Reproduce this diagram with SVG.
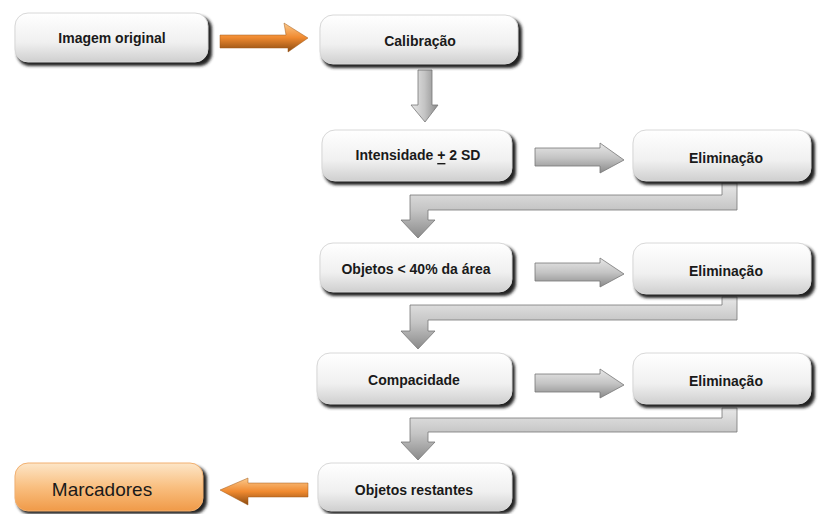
<svg xmlns="http://www.w3.org/2000/svg" width="818" height="514" viewBox="0 0 818 514">
<defs>
<linearGradient id="gBox" x1="0" y1="0" x2="0" y2="1">
<stop offset="0" stop-color="#ffffff"/>
<stop offset="0.6" stop-color="#f0f0f0"/>
<stop offset="1" stop-color="#cfcfcf"/>
</linearGradient>
<linearGradient id="gOrangeBox" x1="0" y1="0" x2="0" y2="1">
<stop offset="0" stop-color="#fde6c8"/>
<stop offset="0.5" stop-color="#f9bf80"/>
<stop offset="1" stop-color="#f09a48"/>
</linearGradient>
<linearGradient id="gGrayArrow" x1="0" y1="0" x2="0" y2="1">
<stop offset="0" stop-color="#e8e8e8"/>
<stop offset="0.5" stop-color="#c4c4c4"/>
<stop offset="1" stop-color="#8a8a8a"/>
</linearGradient>
<linearGradient id="gGrayArrowV" x1="0" y1="0" x2="1" y2="0">
<stop offset="0" stop-color="#e8e8e8"/>
<stop offset="0.5" stop-color="#c4c4c4"/>
<stop offset="1" stop-color="#8a8a8a"/>
</linearGradient>
<linearGradient id="gOrangeArrow" x1="0" y1="0" x2="0" y2="1">
<stop offset="0" stop-color="#fbc98c"/>
<stop offset="0.5" stop-color="#f08a30"/>
<stop offset="1" stop-color="#8a4a10"/>
</linearGradient>
<filter id="sh" x="-10%" y="-20%" width="130%" height="160%">
<feGaussianBlur stdDeviation="1.5"/>
</filter>
</defs>
<style>
.shadow{fill:#222;filter:url(#sh);}
.box{fill:url(#gBox);stroke:#d8d8d8;stroke-width:1;}
.obox{fill:url(#gOrangeBox);stroke:#f2b070;stroke-width:1;}
.lbl{font-family:"Liberation Sans",Arial,sans-serif;font-size:14px;font-weight:bold;fill:#1a1a1a;text-anchor:middle;dominant-baseline:central;}
.big{font-family:"Liberation Sans",Arial,sans-serif;font-size:19px;fill:#1a1a1a;text-anchor:middle;dominant-baseline:central;}
.garrow{fill:url(#gGrayArrow);stroke:#777;stroke-width:0.8;}
.garrowv{fill:url(#gGrayArrowV);stroke:#777;stroke-width:0.8;}
.oarrow{fill:url(#gOrangeArrow);stroke:#a05a18;stroke-width:0.5;}
</style>

<g id="connectors">
<polygon class="oarrow" points="220,35 286,35 284,23 308,38 288,52 288,48 220,48"/>
<polygon class="garrowv" points="418,70 432,70 432,105 438,105 425,122 411,105 418,105"/>
<polygon class="garrow" points="535,148 600,148 600,143 624,160 600,173 600,166 535,166"/>
<polygon class="garrow" points="737,183 737,210 428,210 428,220 435,220 418,238 401,220 410,220 410,195 722,195 722,183"/>
<polygon class="garrow" points="535,263 600,263 600,258 624,274 600,287 600,281 535,281"/>
<polygon class="garrow" points="737,297 737,320 428,320 428,331 435,331 418,349 401,331 410,331 410,305 722,305 722,297"/>
<polygon class="garrow" points="535,374 600,374 600,369 624,385 600,398 600,392 535,392"/>
<polygon class="garrow" points="737,408 737,432 428,432 428,442 435,442 418,460 401,442 410,442 410,418 722,418 722,408"/>
<polygon class="oarrow" points="308,483 248,483 248,478 220,490 248,505 248,497 308,497"/>
</g>

<g id="n_imagem">
<rect class="shadow" x="17" y="16" width="195" height="50" rx="13"/>
<rect class="box" x="15" y="13" width="193" height="49" rx="13"/>
<text class="lbl" x="112" y="38">Imagem original</text>
</g>
<g id="n_calibracao">
<rect class="shadow" x="322" y="18" width="200" height="50" rx="13"/>
<rect class="box" x="320" y="15" width="198" height="49" rx="13"/>
<text class="lbl" x="420" y="41">Calibração</text>
</g>
<g id="n_intensidade">
<rect class="shadow" x="324" y="133" width="192" height="52" rx="13"/>
<rect class="box" x="322" y="130" width="190" height="51" rx="13"/>
<text class="lbl" x="418" y="155">Intensidade <tspan text-decoration="underline">+</tspan> 2 SD</text>
</g>
<g id="n_elim1">
<rect class="shadow" x="635" y="133" width="180" height="52" rx="13"/>
<rect class="box" x="633" y="130" width="178" height="51" rx="13"/>
<text class="lbl" x="726" y="158">Eliminação</text>
</g>
<g id="n_objetos40">
<rect class="shadow" x="322" y="246" width="194" height="50" rx="13"/>
<rect class="box" x="320" y="243" width="192" height="49" rx="13"/>
<text class="lbl" x="416" y="269">Objetos &lt; 40% da área</text>
</g>
<g id="n_elim2">
<rect class="shadow" x="635" y="246" width="180" height="52" rx="13"/>
<rect class="box" x="633" y="243" width="178" height="51" rx="13"/>
<text class="lbl" x="726" y="271">Eliminação</text>
</g>
<g id="n_compacidade">
<rect class="shadow" x="319" y="356" width="196" height="52" rx="13"/>
<rect class="box" x="317" y="353" width="195" height="51" rx="13"/>
<text class="lbl" x="414" y="380">Compacidade</text>
</g>
<g id="n_elim3">
<rect class="shadow" x="635" y="356" width="180" height="52" rx="13"/>
<rect class="box" x="633" y="353" width="178" height="51" rx="13"/>
<text class="lbl" x="726" y="381">Eliminação</text>
</g>
<g id="n_restantes">
<rect class="shadow" x="320" y="466" width="196" height="48" rx="13"/>
<rect class="box" x="318" y="463" width="194" height="48" rx="13"/>
<text class="lbl" x="414" y="490">Objetos restantes</text>
</g>
<g id="n_marcadores">
<rect class="shadow" x="17" y="466" width="190" height="48" rx="13"/>
<rect class="obox" x="15" y="463" width="188" height="48" rx="13"/>
<text class="big" x="102" y="489">Marcadores</text>
</g>
</svg>
